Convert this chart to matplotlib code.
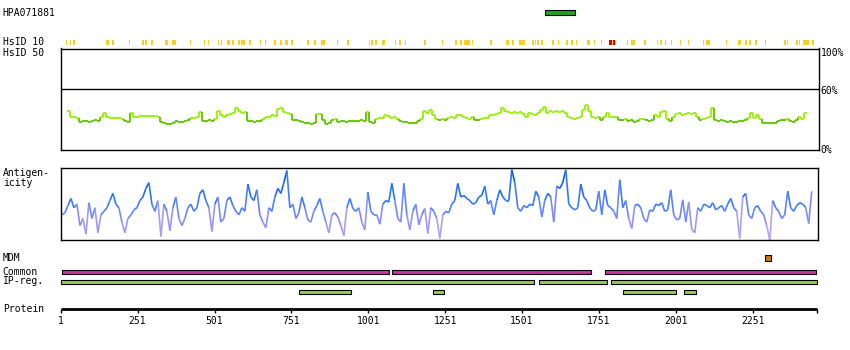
import numpy as np
import matplotlib
matplotlib.use("Agg")
import matplotlib.pyplot as plt
from matplotlib.collections import LineCollection
from matplotlib.patches import Rectangle
from matplotlib.colors import LinearSegmentedColormap

# ---------------------------------------------------------------- data
SEQ_LEN = 2459

hpa_name = "HPA071881"
hpa_range = (1577, 1672)

# HsID 10 marks: (start residue, length)
hsid_yellow = [(18, 3), (31, 3), (41, 6), (148, 10), (168, 6), (223, 3), (265, 6), (275, 6),
               (295, 6), (340, 10), (363, 13), (421, 3), (467, 3), (480, 3), (512, 3), (522, 3),
               (542, 10), (558, 6), (577, 6), (587, 13), (613, 6), (649, 3), (665, 3), (694, 6),
               (714, 6), (730, 10), (750, 6), (802, 6), (824, 6), (847, 13), (899, 3), (932, 6),
               (1003, 3), (1010, 6), (1023, 6), (1046, 10), (1088, 3), (1101, 6), (1120, 3),
               (1182, 6), (1241, 3), (1283, 6), (1299, 6), (1312, 20), (1338, 3), (1397, 6),
               (1449, 10), (1468, 6), (1491, 20), (1533, 6), (1543, 3), (1549, 6), (1562, 6),
               (1598, 6), (1618, 3), (1644, 6), (1660, 6), (1676, 3), (1712, 10), (1735, 3),
               (1757, 3), (1783, 23), (1842, 3), (1855, 13), (1897, 6), (1940, 3), (1949, 6),
               (1966, 3), (1985, 3), (2014, 3), (2040, 3), (2089, 3), (2099, 13), (2164, 3),
               (2203, 10), (2226, 6), (2239, 6), (2258, 6), (2290, 3), (2352, 6), (2362, 3),
               (2391, 6), (2401, 3), (2414, 20), (2443, 6)]
hsid_red = [(1785, 8), (1798, 4)]

# HsID 50 identity (%), one value per window
identity_first = 25
identity_step = 9.75
identity = [38, 33, 33, 32, 28, 28.5, 29, 28, 29, 30, 29, 33, 36, 33, 32, 32, 32, 32, 31, 28.5,
            28, 36, 33, 33, 33.5, 33.5, 33.5, 33.5, 33.5, 33.5, 33, 27.5, 27, 26, 26, 26.5, 28.5,
            28, 27.5, 28.5, 30, 31.5, 32, 33, 37, 29, 28.5, 30, 29, 31, 38, 34, 33, 34, 35, 36,
            41, 38, 36, 37, 29, 28.5, 28, 28.5, 29, 31, 33, 33, 34, 33.5, 40, 41, 37, 36, 35, 30,
            30, 29, 27.5, 26.5, 27, 26, 27, 35, 35, 30, 26, 27, 30, 31, 28, 28.5, 29, 28, 29, 29,
            28.5, 29, 30, 29, 37, 28, 27, 31, 32, 32, 34, 33.5, 32, 33, 31, 29, 28, 28, 26.5,
            26.5, 27, 29, 31, 38, 36, 39, 34, 31, 30, 31, 30, 32, 33, 32, 34, 34, 33, 32, 30.5,
            33, 30, 30, 31, 31.5, 32, 34, 34, 35, 36, 41, 38, 37, 36.5, 37, 36, 37, 35, 33, 36,
            35, 34, 36, 39, 42, 36, 38, 37, 38, 37, 38, 36, 33,
            32, 31, 32, 33, 39, 44, 38, 33, 32, 33, 30, 33, 36, 33, 33, 33, 30, 29.5, 31, 29,
            29.5, 28, 29, 31, 31, 30, 28.5, 30, 34, 33, 37, 38, 31, 29, 33, 35, 36, 34, 35, 36,
            35.5, 36, 33, 30, 31, 32, 33, 41, 30, 29, 29.5, 29, 28, 28.5, 28, 27.5, 29, 28.5, 30,
            32, 36, 32, 34, 31, 27, 27, 26.5, 27, 26.5, 29, 30, 30, 31, 29, 28, 30, 33, 31, 36]

# Antigenicity (% of panel height), one value per window
antigen_first = 5
antigen_step = 9.75
antigenicity = [35, 38, 48, 58, 45, 50, 20, 30, 8, 52, 30, 45, 10, 35, 40, 45, 55, 65, 50, 45,
                25, 10, 30, 35, 42, 45, 55, 60, 72, 80, 50, 40, 55, 5, 50, 40, 13, 45, 60, 30,
                20, 30, 45, 50, 40, 45, 65, 70, 55, 45, 12, 50, 60, 25, 30, 55, 60, 48, 40, 35,
                45, 40, 78, 60, 55, 70, 35, 25, 17, 45, 40, 60, 72, 65, 80, 97, 45, 50, 30,
                38, 60, 45, 28, 25, 40, 48, 58, 40, 25, 10, 35, 38, 32, 20, 6, 45, 58, 44, 40,
                45, 25, 14, 67, 40, 35, 35, 22, 50, 55, 53, 79, 55, 30, 25, 79, 35, 14, 40, 50,
                21, 35, 44, 9, 45, 40, 30, 2, 35, 40, 38, 50, 55, 79, 60, 62, 58, 55, 50, 52,
                60, 62, 75, 50, 55, 35, 55, 70, 60, 55,
                55, 98, 80, 45, 40, 48, 45, 50, 48, 68, 60, 32, 55, 65, 60, 25, 75, 72, 80, 98,
                50, 45, 42, 45, 78, 60, 55, 45, 40, 42, 68, 35, 70, 48, 45, 40, 30, 84, 45, 55,
                30, 16, 48, 50, 45, 30, 25, 42, 40, 50, 48, 52, 40, 42, 70, 35, 28, 30, 56, 25,
                53, 15, 10, 45, 40, 50, 48, 45, 52, 42, 45, 48, 40, 50, 58, 45, 40, 2, 60, 65,
                35, 30, 45, 48, 40, 35, 20, 0, 55, 45, 40, 30, 35, 68, 45, 40, 48, 52, 50, 45,
                23, 68]

mdm_sites = [2300]
common_regions = [(6, 1069), (1079, 1724), (1771, 2455)]
ipreg_row1 = [(1, 1539), (1557, 1776), (1791, 2459)]
ipreg_row2 = [(777, 946), (1212, 1248), (1830, 2000), (2028, 2065)]
tick_values = [1, 251, 501, 751, 1001, 1251, 1501, 1751, 2001, 2251]

# ---------------------------------------------------------------- layout helpers
W, H = 850, 350
PX0, PPR = 60.7, 0.3076          # pixel of residue 1, pixels per residue
MONO = "DejaVu Sans Mono"
FS = 7

fig = plt.figure(figsize=(W / 100, H / 100), dpi=100)
fig.patch.set_facecolor("white")


def res_at(px):
    return (px - PX0) / PPR + 1


def panel(left, right, top, bottom):
    ax = fig.add_axes([left / W, 1 - bottom / H, (right - left) / W, (bottom - top) / H])
    ax.set_xlim(res_at(left), res_at(right))
    return ax


def strip(top, bottom):
    ax = panel(0, W, top, bottom)
    ax.set_ylim(bottom, top)
    ax.axis("off")
    return ax


def label(px, py, s, **kw):
    fig.text(px / W, 1 - py / H, s, fontsize=FS, family=MONO, va="center", **kw)


def step_segments(first, step, values):
    """Horizontal run per window plus vertical joins, as line segments."""
    v = np.asarray(values, dtype=float)
    c = first + step * np.arange(len(v))
    segs, levels = [], []
    for i in range(len(v)):
        segs.append([(c[i] - step / 2, v[i]), (c[i] + step / 2, v[i])])
        levels.append(v[i])
        if i + 1 < len(v):
            segs.append([(c[i] + step / 2, v[i]), (c[i] + step / 2, v[i + 1])])
            levels.append(min(v[i], v[i + 1]))
    return segs, np.array(levels)


# ---------------------------------------------------------------- antibody + HsID 10
top = strip(0, 47)
top.add_patch(Rectangle((hpa_range[0], 10), hpa_range[1] - hpa_range[0], 4.7,
                        facecolor="#22a022", edgecolor="black", lw=0.8))
for s, n in hsid_yellow:
    top.add_patch(Rectangle((s, 40), max(n, 3.4), 5, facecolor="#ffcc22",
                            edgecolor="none", antialiased=False))
for s, n in hsid_red:
    top.add_patch(Rectangle((s, 40), n, 5, facecolor="#e00000", edgecolor="none",
                            antialiased=False))

label(2.7, 13.3, hpa_name)
label(2.7, 42, "HsID 10")
label(2.7, 52.5, "HsID 50")

# ---------------------------------------------------------------- identity panel
ax_id = panel(60.5, 818.5, 48.5, 150)
ax_id.set_ylim(0, 100)
ax_id.set_xticks([])
ax_id.set_yticks([])
for sp in ax_id.spines.values():
    sp.set_linewidth(1.0)
ax_id.axhline(60, color="black", lw=1.0)

id_segs, id_lv = step_segments(identity_first, identity_step, identity)
light, dark = "#a0f01a", "#6cc814"
id_cols = [light if lv >= 30.5 else dark for lv in id_lv]
ax_id.add_collection(LineCollection(id_segs, colors=id_cols, linewidths=1.5, capstyle="butt"))

label(820.5, 52.5, "100%")
label(820.5, 91, "60%")
label(820.5, 150.3, "0%")

# ---------------------------------------------------------------- antigenicity panel
ax_ag = panel(60.5, 817.5, 168.3, 240)
ax_ag.set_ylim(0, 100)
ax_ag.set_xticks([])
ax_ag.set_yticks([])
for sp in ax_ag.spines.values():
    sp.set_linewidth(1.0)

ag = np.asarray(antigenicity, dtype=float)
ag_x = antigen_first + antigen_step * np.arange(len(ag))
pts = np.column_stack([ag_x, ag])
ag_segs = np.stack([pts[:-1], pts[1:]], axis=1)
ag_cmap = LinearSegmentedColormap.from_list(
    "antigen", [(0.0, "#b4a2f2"), (0.2, "#8a8cff"), (0.35, "#5a84ff"),
                (0.5, "#2f78ff"), (0.7, "#1466e8"), (1.0, "#0050b0")])
lc = LineCollection(ag_segs, cmap=ag_cmap, linewidths=1.2, capstyle="butt")
lc.set_array(np.minimum(ag[:-1], ag[1:]) / 100)
lc.set_clim(0, 1)
ax_ag.add_collection(lc)

label(2.7, 172.5, "Antigen-")
label(2.7, 183.2, "icity")

# ---------------------------------------------------------------- feature tracks + protein axis
tr = strip(248, 335)
BAR_H = 4
for r in mdm_sites:
    tr.add_patch(Rectangle((r - 9, 255), 18, 5.5, facecolor="#cc7a00", edgecolor="black", lw=0.8))
for a, b in common_regions:
    tr.add_patch(Rectangle((a, 270.3), b - a, BAR_H, facecolor="#cc3399", edgecolor="black", lw=0.8))
for a, b in ipreg_row1:
    tr.add_patch(Rectangle((a, 280.3), b - a, BAR_H, facecolor="#99cc55", edgecolor="black", lw=0.8))
for a, b in ipreg_row2:
    tr.add_patch(Rectangle((a, 290.3), b - a, BAR_H, facecolor="#99cc55", edgecolor="black", lw=0.8))

tr.plot([1, SEQ_LEN], [309, 309], color="black", lw=2.0, solid_capstyle="butt")
tr.vlines(tick_values + [SEQ_LEN], 309, 313.3, color="black", lw=1.0)
for t in tick_values:
    tr.text(t, 321.5, str(t), fontsize=FS, family=MONO, ha="center", va="center")

label(2.7, 258, "MDM")
label(2.7, 272.3, "Common")
label(2.7, 281.3, "IP-reg.")
label(2.7, 308.5, "Protein")

fig.savefig("out.png", dpi=100, facecolor="white")
